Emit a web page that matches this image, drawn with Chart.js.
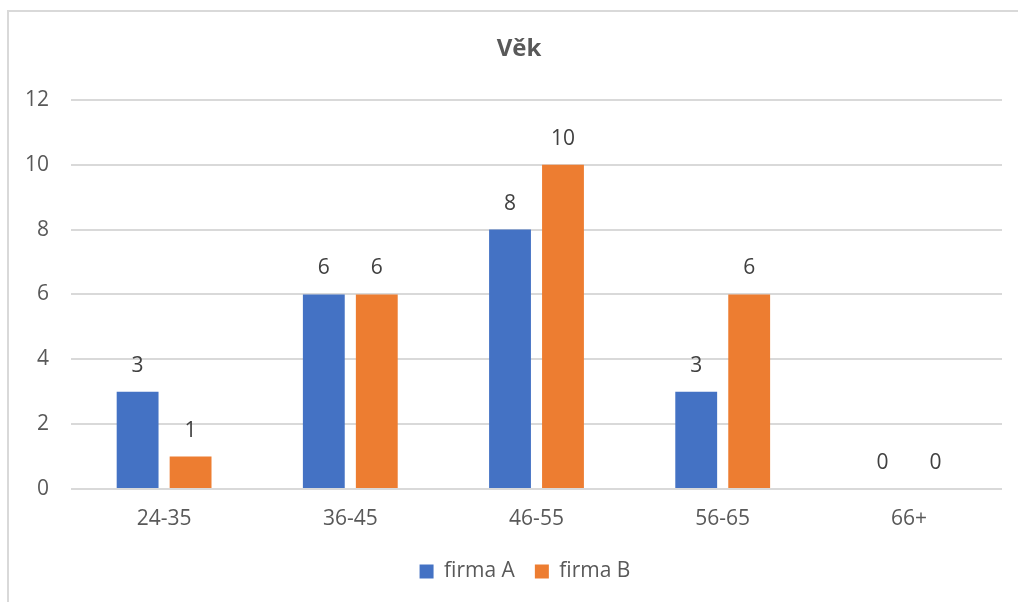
<!DOCTYPE html>
<html>
<head>
<meta charset="utf-8">
<style>
  html, body { margin: 0; padding: 0; background: #ffffff; }
  #wrap { width: 1018px; height: 602px; position: relative; }
</style>
<script src="https://cdn.jsdelivr.net/npm/chart.js@4/dist/chart.umd.min.js"></script>
</head>
<body>
<div id="wrap"><canvas id="chart" width="1018" height="602"></canvas></div>
<script>
const categories = ['24-35', '36-45', '46-55', '56-65', '66+'];
const firmaA = [3, 6, 8, 3, 0];
const firmaB = [1, 6, 10, 6, 0];
const seriesNames = ['firma A', 'firma B'];
const chartTitle = 'Věk';

const FONT = "'Open Sans', 'Liberation Sans', sans-serif";
const TEXT = '#595959';
const GRID = '#d9d9d9';

// light frame around the whole chart
const framePlugin = {
  id: 'frame',
  beforeDraw(chart) {
    const ctx = chart.ctx;
    ctx.save();
    ctx.strokeStyle = '#d9d9d9';
    ctx.lineWidth = 2;
    ctx.strokeRect(8, 11, chart.width, chart.height);
    ctx.restore();
  }
};

// centre the title and legend on the framed area rather than the canvas
const blockShift = {
  id: 'blockShift',
  afterLayout(chart) {
    const lg = chart.legend;
    if (lg) { lg.left += 24; lg.right += 24; }
    const tb = chart.titleBlock;
    if (tb) { tb.left += 18; tb.right += 18; }
  }
};

// value labels above each bar
const valueLabels = {
  id: 'valueLabels',
  afterDatasetsDraw(chart) {
    const ctx = chart.ctx;
    ctx.save();
    ctx.font = '21px ' + FONT;
    ctx.fillStyle = '#404040';
    ctx.textAlign = 'center';
    ctx.textBaseline = 'middle';
    chart.data.datasets.forEach((ds, i) => {
      chart.getDatasetMeta(i).data.forEach((bar, j) => {
        ctx.fillText(String(ds.data[j]), bar.x, bar.y - 26);
      });
    });
    ctx.restore();
  }
};

new Chart(document.getElementById('chart'), {
  type: 'bar',
  data: {
    labels: categories,
    datasets: [
      { label: seriesNames[0], data: firmaA, backgroundColor: '#4472c4' },
      { label: seriesNames[1], data: firmaB, backgroundColor: '#ed7d31' }
    ]
  },
  options: {
    responsive: false,
    animation: false,
    layout: { padding: { top: 10, right: 16, bottom: 10, left: 0 } },
    datasets: { bar: { categoryPercentage: 0.569, barPercentage: 0.79 } },
    plugins: {
      title: {
        display: true,
        text: chartTitle,
        color: TEXT,
        font: { family: FONT, size: 24, weight: 'bold' },
        padding: { top: 25, bottom: 36 }
      },
      legend: {
        position: 'bottom',
        labels: {
          color: TEXT,
          font: { family: FONT, size: 21 },
          boxWidth: 14,
          boxHeight: 14,
          padding: 20
        }
      },
      tooltip: { enabled: false }
    },
    scales: {
      x: {
        grid: { display: false, drawTicks: false },
        border: { display: false },
        ticks: { color: TEXT, font: { family: FONT, size: 21 }, padding: 17 },
        afterFit(scale) { scale.height = 52; }
      },
      y: {
        min: 0,
        max: 12,
        ticks: { stepSize: 2, color: TEXT, font: { family: FONT, size: 21 }, padding: 22 },
        grid: { color: GRID, lineWidth: 2, drawTicks: false },
        border: { display: false },
        afterFit(scale) { scale.width = 71; }
      }
    }
  },
  plugins: [framePlugin, blockShift, valueLabels]
});
</script>
</body>
</html>
